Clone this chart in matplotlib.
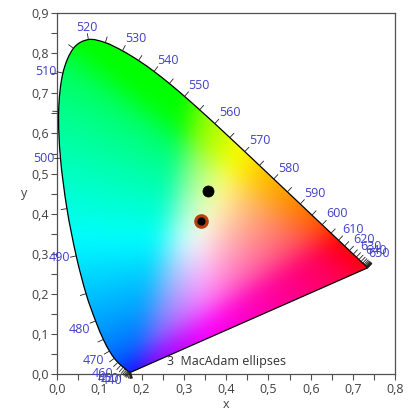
import numpy as np
import matplotlib
matplotlib.use('Agg')
import matplotlib.pyplot as plt
from matplotlib.path import Path
from matplotlib.patches import PathPatch

plt.rcParams['font.family'] = ['Open Sans', 'DejaVu Sans']

# CIE 1931 2deg spectral locus, 5 nm steps
wavelengths = np.arange(380, 705, 5)
locus_x = [0.1741, 0.1740, 0.1738, 0.1736, 0.1733, 0.1730, 0.1726, 0.1721,
           0.1714, 0.1703, 0.1689, 0.1669, 0.1644, 0.1611, 0.1566, 0.1510,
           0.1440, 0.1355, 0.1241, 0.1096, 0.0913, 0.0687, 0.0454, 0.0235,
           0.0082, 0.0039, 0.0139, 0.0389, 0.0743, 0.1142, 0.1547, 0.1929,
           0.2296, 0.2658, 0.3016, 0.3373, 0.3731, 0.4087, 0.4441, 0.4788,
           0.5125, 0.5448, 0.5752, 0.6029, 0.6270, 0.6482, 0.6658, 0.6801,
           0.6915, 0.7006, 0.7079, 0.7140, 0.7190, 0.7230, 0.7260, 0.7283,
           0.7300, 0.7311, 0.7320, 0.7327, 0.7334, 0.7340, 0.7344, 0.7346,
           0.7347]
locus_y = [0.0050, 0.0050, 0.0049, 0.0049, 0.0048, 0.0048, 0.0048, 0.0048,
           0.0051, 0.0058, 0.0069, 0.0086, 0.0109, 0.0138, 0.0177, 0.0227,
           0.0297, 0.0399, 0.0578, 0.0868, 0.1327, 0.2007, 0.2950, 0.4127,
           0.5384, 0.6548, 0.7502, 0.8120, 0.8338, 0.8262, 0.8059, 0.7816,
           0.7543, 0.7243, 0.6923, 0.6589, 0.6245, 0.5896, 0.5547, 0.5202,
           0.4866, 0.4544, 0.4242, 0.3965, 0.3725, 0.3514, 0.3340, 0.3197,
           0.3083, 0.2993, 0.2920, 0.2859, 0.2809, 0.2770, 0.2740, 0.2717,
           0.2700, 0.2689, 0.2680, 0.2673, 0.2666, 0.2660, 0.2656, 0.2654,
           0.2653]
label_wavelengths = list(range(440, 660, 10))

# measured points
point_x = [0.357, 0.3405]
point_y = [0.457, 0.382]
note_text = '3  MacAdam ellipses'

xticks = [0.0, 0.1, 0.2, 0.3, 0.4, 0.5, 0.6, 0.7, 0.8]
xtick_labels = ['0,0', '0,1', '0,2', '0,3', '0,4', '0,5', '0,6', '0,7', '0,8']
yticks = [0.0, 0.1, 0.2, 0.3, 0.4, 0.5, 0.6, 0.7, 0.8, 0.9]
ytick_labels = ['0,0', '0,1', '0,2', '0,3', '0,4', '0,5', '0,6', '0,7', '0,8', '0,9']

axis_grey = '#505050'
label_blue = '#4040c8'

# display primaries used for the colour fill
prim_xy = [(0.64, 0.33), (0.30, 0.60), (0.19, 0.02)]
white_xy = (1 / 3, 1 / 3)


def xy_to_XYZ(x, y):
    return np.array([x / y, 1.0, (1 - x - y) / y])


def blur(img, sigma):
    # separable gaussian, edge padded
    r = int(3 * sigma)
    k = np.exp(-0.5 * (np.arange(-r, r + 1) / sigma) ** 2)
    k /= k.sum()
    out = np.pad(img, ((r, r), (r, r), (0, 0)), mode='edge')
    out = np.apply_along_axis(lambda v: np.convolve(v, k, mode='same'), 0, out)
    out = np.apply_along_axis(lambda v: np.convolve(v, k, mode='same'), 1, out)
    return out[r:-r, r:-r]


fig = plt.figure(figsize=(4.10, 4.13), dpi=100)
ax = fig.add_axes([57 / 410, 1 - 374.3 / 413, 338.3 / 410, 361.3 / 413])
ax.set_xlim(0, 0.8)
ax.set_ylim(0, 0.9)

# ---- colour fill of the horseshoe ----
Pm = np.column_stack([xy_to_XYZ(*p) for p in prim_xy])
S = np.linalg.solve(Pm, xy_to_XYZ(*white_xy))
M = np.linalg.inv(Pm * S)

nx, ny = 250, 280
gx = np.linspace(0, 0.8, nx)
gy = np.linspace(0, 0.9, ny)
X, Y = np.meshgrid(gx, gy)
Ys = np.where(Y < 1e-3, 1e-3, Y)
XYZ = np.stack([X / Ys, np.ones_like(X), (1 - X - Ys) / Ys], axis=-1)
rgb = XYZ @ M.T
rgb = np.clip(rgb, 0, None)
rgb = rgb / np.maximum(rgb.max(axis=-1, keepdims=True), 1e-9)
rgb = rgb ** (1 / 2.6)
rgb = np.clip(blur(rgb, 8), 0, 1)

# smooth outline through the locus points (Catmull-Rom as cubic Bezier)
P = np.column_stack([locus_x, locus_y])
verts = [P[0]]
codes = [Path.MOVETO]
n = len(P)
for i in range(n - 1):
    p0 = P[max(i - 1, 0)]
    p1 = P[i]
    p2 = P[i + 1]
    p3 = P[min(i + 2, n - 1)]
    verts += [p1 + (p2 - p0) / 6, p2 - (p3 - p1) / 6, p2]
    codes += [Path.CURVE4] * 3
verts += [P[0], P[0]]
codes += [Path.LINETO, Path.CLOSEPOLY]
outline = PathPatch(Path(verts, codes), facecolor='none', edgecolor='black',
                    lw=0.9, zorder=3)
ax.add_patch(outline)
im = ax.imshow(rgb, origin='lower', extent=(0, 0.8, 0, 0.9), aspect='auto',
               interpolation='bilinear', zorder=1)
im.set_clip_path(outline)

# ---- wavelength ticks and labels ----
pts = ax.transData.transform(P)
tick_len = 6
for i, wl in enumerate(wavelengths):
    a = pts[max(i - 1, 0)]
    b = pts[min(i + 1, len(pts) - 1)]
    t = b - a
    nrm = np.array([-t[1], t[0]])
    nrm = nrm / (np.hypot(*nrm) + 1e-12)
    ax.annotate('', xy=(locus_x[i], locus_y[i]),
                xytext=(nrm[0] * tick_len, nrm[1] * tick_len),
                textcoords='offset pixels',
                arrowprops=dict(arrowstyle='-', lw=0.6, color='#202020',
                                shrinkA=0, shrinkB=0), zorder=4)
    if wl in label_wavelengths:
        ha = 'left' if nrm[0] > 0.35 else ('right' if nrm[0] < -0.35 else 'center')
        va = 'bottom' if nrm[1] > 0.35 else ('top' if nrm[1] < -0.35 else 'center')
        ax.annotate(str(wl), xy=(locus_x[i], locus_y[i]),
                    xytext=(nrm[0] * 6, nrm[1] * 6), textcoords='offset pixels',
                    ha=ha, va=va, fontsize=9, color=label_blue, zorder=5,
                    annotation_clip=False)

# ---- points ----
ax.plot(point_x[0], point_y[0], 'o', ms=8, mfc='black', mec='black', mew=0.5, zorder=6)
ax.plot(point_x[1], point_y[1], 'o', ms=8.2, mfc='black', mec='#b3400f', mew=2.3, zorder=6)

ax.text(0.26, 0.0314, note_text, fontsize=9, color='#303030', va='center', ha='left')

# ---- axes styling ----
ax.set_xticks(xticks)
ax.set_xticklabels(xtick_labels)
ax.set_yticks(yticks)
ax.set_yticklabels(ytick_labels)
ax.set_xticks(np.arange(0.05, 0.8, 0.1), minor=True)
ax.set_yticks(np.arange(0.05, 0.9, 0.1), minor=True)
ax.tick_params(which='both', direction='out', length=4, width=0.8, color=axis_grey,
               labelsize=9, labelcolor='#404040', pad=2)
for s in ax.spines.values():
    s.set_color(axis_grey)
    s.set_linewidth(0.9)
ax.set_xlabel('x', fontsize=9, color='#404040', labelpad=2)
ax.set_ylabel('y', fontsize=9, color='#404040', rotation=0, labelpad=5, va='center')

fig.savefig('out.png', dpi=100, facecolor='white')
